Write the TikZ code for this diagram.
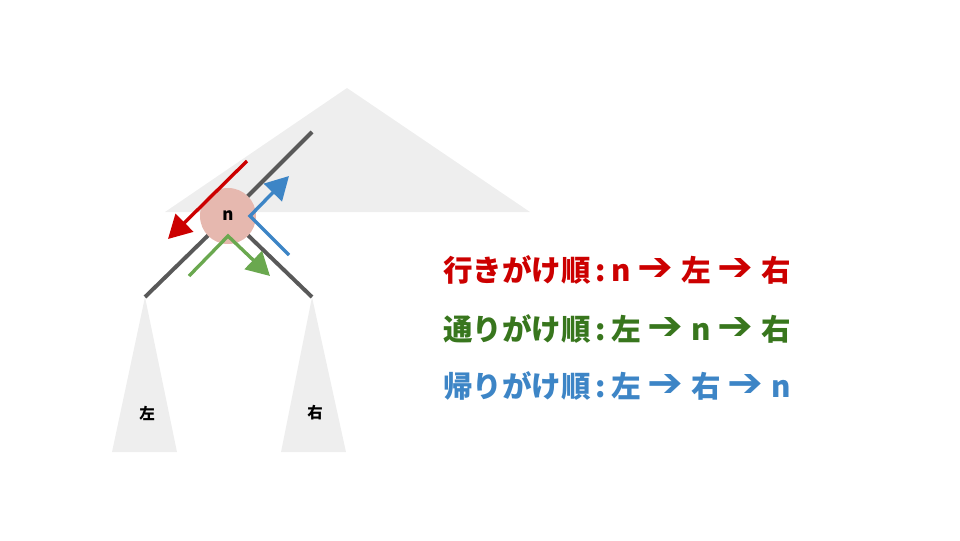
\documentclass[tikz,border=0pt]{standalone}
\usepackage{fontspec}
\newfontfamily\jpfont{Noto Sans CJK JP}
\newfontfamily\symfont{DejaVu Sans}
\usepackage{tikz}
\usetikzlibrary{positioning,arrows.meta}
\definecolor{goRed}{HTML}{CC0000}
\definecolor{inGreen}{HTML}{38761D}
\definecolor{inArrow}{HTML}{6AA84F}
\definecolor{backBlue}{HTML}{3D85C6}
\definecolor{treeGray}{HTML}{EEEEEE}
\definecolor{edgeGray}{HTML}{595959}
\definecolor{nodePink}{HTML}{E6B8AF}
\newcommand{\arr}{\hspace{0.22em}\raisebox{0.03em}{\scalebox{1.45}[1.35]{\symfont\bfseries ➔}}\hspace{0.28em}}
\tikzstyle{subtree}=[fill=treeGray, draw=none]
\tikzstyle{edge}=[draw=edgeGray, line width=2.8pt]
\tikzstyle{walk}=[line width=2.4pt, -{Triangle[length=0.58cm,width=0.62cm]}]
\tikzstyle{order}=[anchor=west, inner sep=0pt, font=\jpfont\bfseries\fontsize{21}{25}\selectfont]
\tikzstyle{leaf}=[font=\jpfont\bfseries\fontsize{11}{13}\selectfont, inner sep=0pt]

\begin{document}
\begin{tikzpicture}[x=0.025cm,y=-0.025cm]
\useasboundingbox (0,0) rectangle (960,540);

% whole tree and subtrees
\fill[subtree] (347,88) -- (530,212) -- (165,212) -- cycle;
\fill[subtree] (145,297) -- (177,452) -- (112,452) -- cycle;
\fill[subtree] (312,297) -- (346,452) -- (281,452) -- cycle;
\node[leaf] (leftTree) at (147,413) {左};
\node[leaf] (rightTree) at (315,413) {右};

\coordinate (parent) at (312,132);
\coordinate (leftRoot) at (145,297);
\coordinate (rightRoot) at (312,297);
\coordinate (n0) at (228,216);
\draw[edge] (parent) -- (n0);
\draw[edge] (n0) -- (leftRoot);
\draw[edge] (n0) -- (rightRoot);

\node[circle, fill=nodePink, minimum size=1.4cm, inner sep=0pt,
      font=\jpfont\bfseries\fontsize{12}{14}\selectfont] (n) at (n0) {n};

% traversal arrows
\coordinate (redA) at (247,161);
\coordinate (redB) at (168,239);
\draw[walk, goRed] (redA) -- (redB);

\coordinate (greenA) at (189,276);
\coordinate (greenB) at (228,236);
\coordinate (greenC) at (270,276);
\draw[walk, inArrow] (greenA) -- (greenB) -- (greenC);

\coordinate (blueA) at (289,255);
\coordinate (blueB) at (250,216);
\coordinate (blueC) at (289,176);
\draw[walk, backBlue] (blueA) -- (blueB) -- (blueC);

% orders
\node[order, text=goRed] (pre) at (443,270) {行きがけ順\,:\,n\arr 左\arr 右};
\node[order, text=inGreen] (mid) at (443,329) {通りがけ順\,:\,左\arr n\arr 右};
\node[order, text=backBlue] (post) at (443,386) {帰りがけ順\,:\,左\arr 右\arr n};
\end{tikzpicture}
\end{document}
